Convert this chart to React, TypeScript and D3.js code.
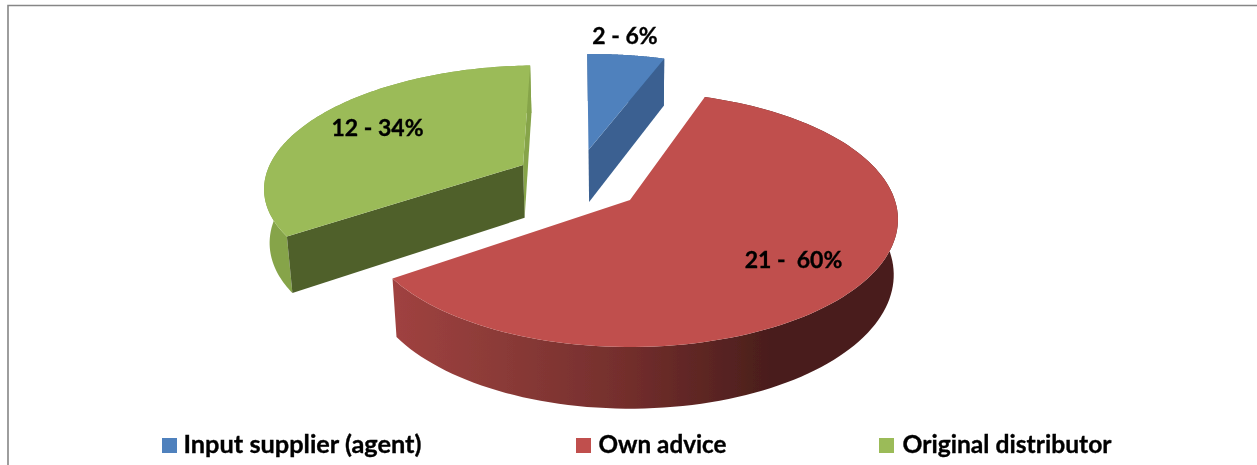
import React from "react";
import * as d3 from "d3";

const categories = ["Input supplier (agent)", "Own advice", "Original distributor"];
const counts = [2, 21, 12];
const dataLabels = ["2 - 6%", "21 -  60%", "12 - 34%"];

const topColors = ["#4f81bd", "#c0504d", "#9bbb59"];
const cutColors = ["#3a6191", "#8f3d3a", "#4f602c"];
const sideColors = ["#3a6191", "url(#redRim)", "#86a44a"];

// layout
const W = 1257, H = 465;
const x0 = 630, y0 = 200, A = 264.8, B = 124.5, K = 0.153, C = 0.0156, DZ = 55.5;
const offsets: [number, number][] = [[-0.167, 0.428], [0, 0], [-0.422, 0.294]];
const labelPos: [number, number][] = [[625, 44], [793.5, 268], [377.5, 136]];
const legendSwatchX = [162, 576, 879];
const legendTextX = [183.5, 598.5, 902.5];
const legendTextLen = [238, 128, 209];
const FONT = "Lato, Carlito, sans-serif";

const project = (X: number, Y: number, z: number): [number, number] => {
  const w = 1 + K * Y + C * z;
  return [x0 + (A * X) / w, y0 + (DZ * z - B * Y) / w];
};

const pie = d3.pie<number>().sort(null).startAngle((-1.7 * Math.PI) / 180).endAngle((358.3 * Math.PI) / 180);
const arcs = pie(counts);
const line = d3.line<[number, number]>().curve(d3.curveLinear);

const rimPts = (i: number, z: number): [number, number][] => {
  const a = arcs[i], [ox, oy] = offsets[i];
  const n = 120;
  return d3.range(n + 1).map((k) => {
    const t = a.startAngle + ((a.endAngle - a.startAngle) * k) / n;
    return project(ox + Math.sin(t), oy + Math.cos(t), z);
  });
};
const apex = (i: number, z: number) => project(offsets[i][0], offsets[i][1], z);
const closed = (p: [number, number][]) => (line(p) ?? "") + "Z";

function Slice({ i }: { i: number }) {
  const topRim = rimPts(i, 0), botRim = rimPts(i, 1);
  const a0 = apex(i, 0), a1 = apex(i, 1);
  const first = 0, last = topRim.length - 1;
  const startCut = [a0, topRim[first], botRim[first], a1] as [number, number][];
  const endCut = [a0, topRim[last], botRim[last], a1] as [number, number][];
  return (
    <g>
      {i === 2 && <path d={closed(endCut)} fill={sideColors[2]} />}
      <path d={closed([...topRim, ...[...botRim].reverse()])} fill={sideColors[i]} />
      {i === 0 && <path d={closed(endCut)} fill={cutColors[0]} />}
      {i === 2 && <path d={closed(startCut)} fill={cutColors[2]} />}
      <path d={closed([a0, ...topRim])} fill={topColors[i]} />
    </g>
  );
}

export default function App() {
  return (
    <svg width={W} height={H} viewBox={`0 0 ${W} ${H}`}
      style={{ position: "absolute", left: 0, top: 0, background: "#fff", display: "block" }}>
      <defs>
        <linearGradient id="redRim" gradientUnits="userSpaceOnUse" x1={392} x2={770} y1={0} y2={0}>
          <stop offset="0" stopColor="#a04240" />
          <stop offset="0.3" stopColor="#8a3a37" />
          <stop offset="0.62" stopColor="#732e2c" />
          <stop offset="1" stopColor="#4a1e1c" />
        </linearGradient>
        <filter id="soft" x="-5%" y="-5%" width="110%" height="110%">
          <feGaussianBlur stdDeviation={0.45} />
        </filter>
      </defs>
      <path d={`M8,465V5.5H${W}`} fill="none" stroke="#868686" strokeWidth={1.6} />
      <g filter="url(#soft)">
        {[2, 0, 1].map((i) => <Slice key={i} i={i} />)}
        {dataLabels.map((t, i) => (
          <text key={t} x={labelPos[i][0]} y={labelPos[i][1]} textAnchor="middle"
            fontFamily={FONT} fontWeight={700} fontSize={23} fill="#000" stroke="#000" strokeWidth={0.35}
            style={{ whiteSpace: "pre" }}>{t}</text>
        ))}
        {categories.map((c, i) => (
          <g key={c}>
            <rect x={legendSwatchX[i]} y={438} width={15} height={15} fill={topColors[i]} />
            <text x={legendTextX[i]} y={453} fontFamily={FONT} fontWeight={700} fontSize={24.5}
              fill="#000" stroke="#000" strokeWidth={0.35}
              textLength={legendTextLen[i]} lengthAdjust="spacingAndGlyphs">{c}</text>
          </g>
        ))}
      </g>
    </svg>
  );
}
